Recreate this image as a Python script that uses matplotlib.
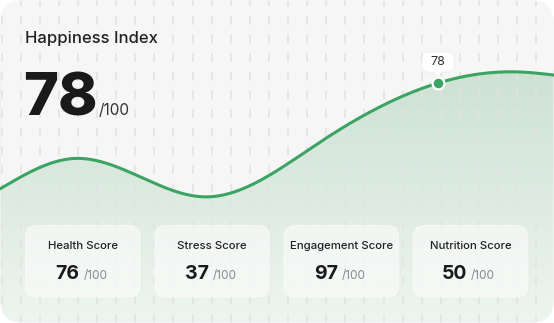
import numpy as np
import matplotlib
matplotlib.use('Agg')
import matplotlib.pyplot as plt
from matplotlib.patches import FancyBboxPatch, Polygon
from matplotlib.colors import LinearSegmentedColormap

plt.rcParams['font.family'] = ['Inter', 'DejaVu Sans']

# data
title = 'Happiness Index'
index_value = 78
index_max = 100
curve_x = [0, 75, 205, 320, 438, 520, 554]
curve_y = [43.6, 53.5, 41.0, 58.8, 78, 81.6, 80.6]
marked_idx = 4
score_labels = ['Health Score', 'Stress Score', 'Engagement Score', 'Nutrition Score']
score_values = [76, 37, 97, 50]

W, H = 554, 323
GREEN = '#3ca463'


def natural_spline(x, y, xs):
    x = np.asarray(x, float)
    y = np.asarray(y, float)
    n = len(x)
    h = np.diff(x)
    A = np.zeros((n, n))
    b = np.zeros(n)
    A[0, 0] = A[-1, -1] = 1
    for i in range(1, n - 1):
        A[i, i - 1] = h[i - 1]
        A[i, i] = 2 * (h[i - 1] + h[i])
        A[i, i + 1] = h[i]
        b[i] = 6 * ((y[i + 1] - y[i]) / h[i] - (y[i] - y[i - 1]) / h[i - 1])
    M = np.linalg.solve(A, b)
    idx = np.clip(np.searchsorted(x, xs) - 1, 0, n - 2)
    x0, x1 = x[idx], x[idx + 1]
    hh = h[idx]
    return (M[idx] * (x1 - xs) ** 3 / (6 * hh) + M[idx + 1] * (xs - x0) ** 3 / (6 * hh)
            + (y[idx] / hh - M[idx] * hh / 6) * (x1 - xs)
            + (y[idx + 1] / hh - M[idx + 1] * hh / 6) * (xs - x0))


fig = plt.figure(figsize=(W / 100, H / 100), dpi=100)
fig.patch.set_facecolor('white')

# background card (pixel coords)
bg = fig.add_axes([0, 0, 1, 1])
bg.set_xlim(0, W)
bg.set_ylim(H, 0)
bg.axis('off')
card = FancyBboxPatch((0.5, 0.5), W - 1, H - 1, boxstyle='round,pad=0,rounding_size=22',
                      fc='#f6f6f6', ec='none')
bg.add_patch(card)

# chart axes
ax = fig.add_axes([0, 0, 1, 1])
ax.set_xlim(0, W)
ax.set_ylim(0, 105)
ax.axis('off')
ax.patch.set_alpha(0)

xs = np.linspace(curve_x[0], curve_x[-1], 600)
ys = natural_spline(curve_x, curve_y, xs)

cmap = LinearSegmentedColormap.from_list('g', ['#eef5f0', '#cde1d3'])
grad = np.linspace(0, 1, 256).reshape(-1, 1)
im = ax.imshow(grad, extent=(0, W, 0, 82), origin='lower', aspect='auto', cmap=cmap, zorder=1)
im.set_clip_path(card)
top = ax.fill_between(xs, ys, 105, color='#f6f6f6', lw=0, zorder=2)
top.set_clip_path(card)

# dashed vertical grid
grid_x = np.arange(1.5, W, 19.1)
gl = ax.vlines(grid_x, 0, 105, colors='#e2e2e2', linewidth=1.1, zorder=3)
gl.set_linestyle((0, (5.8, 6.4)))
gl.set_clip_path(card)

ax.plot(xs, ys, color=GREEN, lw=2.2, zorder=4, solid_capstyle='round')
mx, my = curve_x[marked_idx], curve_y[marked_idx]
ax.plot([mx], [my], 'o', ms=8.5, mfc=GREEN, mec='white', mew=1.6, zorder=6)

# foreground (pixel coords)
fg = fig.add_axes([0, 0, 1, 1])
fg.set_xlim(0, W)
fg.set_ylim(H, 0)
fg.axis('off')
fg.patch.set_alpha(0)

# tooltip
dx, dy = ax.transData.transform((mx, my))
px, py = dx, H - dy
tip = FancyBboxPatch((px - 16, py - 31), 32, 20, boxstyle='round,pad=0,rounding_size=6',
                     fc='white', ec=(0, 0, 0, 0.05), lw=0.6, zorder=5)
fg.add_patch(tip)
fg.add_patch(Polygon([(px - 4, py - 11.4), (px + 4, py - 11.4), (px, py - 7.5)],
                     closed=True, fc='white', ec='none', zorder=6))
fg.text(px, py - 21, str(my), ha='center', va='center', fontsize=9, color='#333333', zorder=7)

# headline
fg.text(25, 43, title, fontsize=12, color='#222222', fontweight='medium', va='baseline')
fg.text(23, 115, str(index_value), fontsize=43, color='#1a1a1a', fontweight='heavy', va='baseline')
fg.text(99, 115, '/' + str(index_max), fontsize=11, color='#333333', va='baseline')

# score cards
card_w, card_h, gap = 116, 73, 13.2
for i, (lab, val) in enumerate(zip(score_labels, score_values)):
    x0 = 25 + i * (card_w + gap)
    fg.add_patch(FancyBboxPatch((x0 + 1, 226), card_w, card_h, boxstyle='round,pad=0,rounding_size=12',
                                fc=(0.2, 0.35, 0.25, 0.025), ec='none', zorder=2))
    fg.add_patch(FancyBboxPatch((x0, 225), card_w, card_h, boxstyle='round,pad=0,rounding_size=12',
                                fc=(1, 1, 1, 0.62), ec='none', zorder=3))
    cx = x0 + card_w / 2
    fg.text(cx, 246, lab, ha='center', va='center', fontsize=8.2, color='#222222',
            fontweight='medium', zorder=4)
    fg.text(cx - 3.5, 279, str(val), ha='right', va='baseline', fontsize=14, color='#1a1a1a',
            fontweight='bold', zorder=4)
    fg.text(cx + 0.5, 279, '/' + str(index_max), ha='left', va='baseline', fontsize=8.5,
            color='#8a8a8a', zorder=4)

fig.savefig('out.png', dpi=100, facecolor='white')
